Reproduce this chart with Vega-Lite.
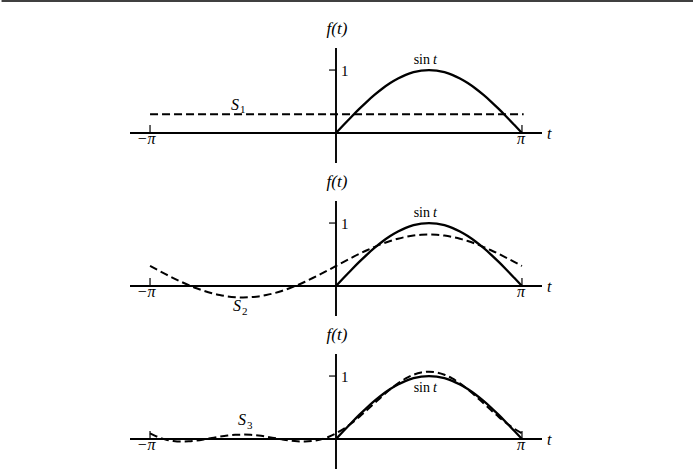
{
  "$schema": "https://vega.github.io/schema/vega-lite/v6.json",
  "padding": 0,
  "spacing": 38,
  "bounds": "flush",
  "background": "white",
  "config": {"view": {"stroke": null}, "font": "Liberation Serif", "text": {"font": "Liberation Serif", "color": "black"}},
  "datasets": {
    "top": [{"t": -5.65, "t2": 6.05, "y": 2.096}],
    "axes": [
      {"t": -3.48, "t2": 3.48, "y": 0, "y2": 0},
      {"t": 0, "t2": 0, "y": -0.476, "y2": 1.35}
    ],
    "ticks": [
      {"t": -3.1416, "t2": -3.1416, "y": 0, "y2": 0.127},
      {"t": 3.1416, "t2": 3.1416, "y": 0, "y2": 0.127},
      {"t": -0.118, "t2": 0, "y": 1, "y2": 1}
    ],
    "sin": [
      {"t": 0, "y": 0}, {"t": 0.1309, "y": 0.1305}, {"t": 0.2618, "y": 0.2588}, {"t": 0.3927, "y": 0.3827},
      {"t": 0.5236, "y": 0.5}, {"t": 0.6545, "y": 0.6088}, {"t": 0.7854, "y": 0.7071}, {"t": 0.9163, "y": 0.7934},
      {"t": 1.0472, "y": 0.866}, {"t": 1.1781, "y": 0.9239}, {"t": 1.309, "y": 0.9659}, {"t": 1.4399, "y": 0.9914},
      {"t": 1.5708, "y": 1}, {"t": 1.7017, "y": 0.9914}, {"t": 1.8326, "y": 0.9659}, {"t": 1.9635, "y": 0.9239},
      {"t": 2.0944, "y": 0.866}, {"t": 2.2253, "y": 0.7934}, {"t": 2.3562, "y": 0.7071}, {"t": 2.4871, "y": 0.6088},
      {"t": 2.618, "y": 0.5}, {"t": 2.7489, "y": 0.3827}, {"t": 2.8798, "y": 0.2588}, {"t": 3.0107, "y": 0.1305},
      {"t": 3.1416, "y": 0}
    ],
    "s1": [{"t": -3.1416, "y": 0.3}, {"t": 3.17, "y": 0.3}],
    "s2": [
      {"t": -3.1416, "y": 0.3183}, {"t": -3.0107, "y": 0.2531}, {"t": -2.8798, "y": 0.1889}, {"t": -2.7489, "y": 0.127},
      {"t": -2.618, "y": 0.0683}, {"t": -2.4871, "y": 0.0139}, {"t": -2.3562, "y": -0.0352}, {"t": -2.2253, "y": -0.0784},
      {"t": -2.0944, "y": -0.1147}, {"t": -1.9635, "y": -0.1436}, {"t": -1.8326, "y": -0.1647}, {"t": -1.7017, "y": -0.1774},
      {"t": -1.5708, "y": -0.1817}, {"t": -1.4399, "y": -0.1774}, {"t": -1.309, "y": -0.1647}, {"t": -1.1781, "y": -0.1436},
      {"t": -1.0472, "y": -0.1147}, {"t": -0.9163, "y": -0.0784}, {"t": -0.7854, "y": -0.0352}, {"t": -0.6545, "y": 0.0139},
      {"t": -0.5236, "y": 0.0683}, {"t": -0.3927, "y": 0.127}, {"t": -0.2618, "y": 0.1889}, {"t": -0.1309, "y": 0.2531},
      {"t": 0, "y": 0.3183}, {"t": 0.1309, "y": 0.3836}, {"t": 0.2618, "y": 0.4477}, {"t": 0.3927, "y": 0.5097},
      {"t": 0.5236, "y": 0.5683}, {"t": 0.6545, "y": 0.6227}, {"t": 0.7854, "y": 0.6719}, {"t": 0.9163, "y": 0.715},
      {"t": 1.0472, "y": 0.7513}, {"t": 1.1781, "y": 0.7803}, {"t": 1.309, "y": 0.8013}, {"t": 1.4399, "y": 0.814},
      {"t": 1.5708, "y": 0.8183}, {"t": 1.7017, "y": 0.814}, {"t": 1.8326, "y": 0.8013}, {"t": 1.9635, "y": 0.7803},
      {"t": 2.0944, "y": 0.7513}, {"t": 2.2253, "y": 0.715}, {"t": 2.3562, "y": 0.6719}, {"t": 2.4871, "y": 0.6227},
      {"t": 2.618, "y": 0.5683}, {"t": 2.7489, "y": 0.5097}, {"t": 2.8798, "y": 0.4477}, {"t": 3.0107, "y": 0.3836},
      {"t": 3.1416, "y": 0.3183}
    ],
    "s3": [
      {"t": -3.1416, "y": 0.09}, {"t": -3.0107, "y": 0.0329}, {"t": -2.8798, "y": -0.0072}, {"t": -2.7489, "y": -0.031},
      {"t": -2.618, "y": -0.04}, {"t": -2.4871, "y": -0.0365}, {"t": -2.3562, "y": -0.0236}, {"t": -2.2253, "y": -0.0046},
      {"t": -2.0944, "y": 0.017}, {"t": -1.9635, "y": 0.0378}, {"t": -1.8326, "y": 0.0548}, {"t": -1.7017, "y": 0.0661},
      {"t": -1.5708, "y": 0.07}, {"t": -1.4399, "y": 0.0661}, {"t": -1.309, "y": 0.0548}, {"t": -1.1781, "y": 0.0378},
      {"t": -1.0472, "y": 0.017}, {"t": -0.9163, "y": -0.0046}, {"t": -0.7854, "y": -0.0236}, {"t": -0.6545, "y": -0.0365},
      {"t": -0.5236, "y": -0.04}, {"t": -0.3927, "y": -0.031}, {"t": -0.2618, "y": -0.0072}, {"t": -0.1309, "y": 0.0329},
      {"t": 0, "y": 0.09}, {"t": 0.1309, "y": 0.1635}, {"t": 0.2618, "y": 0.2516}, {"t": 0.3927, "y": 0.3516},
      {"t": 0.5236, "y": 0.46}, {"t": 0.6545, "y": 0.5723}, {"t": 0.7854, "y": 0.6836}, {"t": 0.9163, "y": 0.7888},
      {"t": 1.0472, "y": 0.883}, {"t": 1.1781, "y": 0.9616}, {"t": 1.309, "y": 1.0208}, {"t": 1.4399, "y": 1.0575},
      {"t": 1.5708, "y": 1.07}, {"t": 1.7017, "y": 1.0575}, {"t": 1.8326, "y": 1.0208}, {"t": 1.9635, "y": 0.9616},
      {"t": 2.0944, "y": 0.883}, {"t": 2.2253, "y": 0.7888}, {"t": 2.3562, "y": 0.6836}, {"t": 2.4871, "y": 0.5723},
      {"t": 2.618, "y": 0.46}, {"t": 2.7489, "y": 0.3516}, {"t": 2.8798, "y": 0.2516}, {"t": 3.0107, "y": 0.1635},
      {"t": 3.1416, "y": 0.09}
    ],
    "common": [
      {"t": 0, "y": 1.35, "label": "f(t)", "kind": "f"},
      {"t": 0, "y": 1, "label": "1", "kind": "one"},
      {"t": -3.1416, "y": 0, "label": "−π", "kind": "negpi"},
      {"t": 3.1416, "y": 0, "label": "π", "kind": "pi"},
      {"t": 3.48, "y": 0, "label": "t", "kind": "tax"}
    ]
  },
  "vconcat": [
    {
      "width": 412, "height": 115,
      "encoding": {
        "x": {"field": "t", "type": "quantitative", "scale": {"domain": [-3.48, 3.48], "nice": false, "zero": false}, "axis": null},
        "y": {"field": "y", "type": "quantitative", "scale": {"domain": [-0.476, 1.35], "nice": false, "zero": false}, "axis": null}
      },
      "layer": [
        {"data": {"name": "top"}, "mark": {"type": "rule", "color": "black", "strokeWidth": 1.5}, "encoding": {"x2": {"field": "t2"}}},
        {"data": {"name": "axes"}, "mark": {"type": "rule", "color": "black", "strokeWidth": 1.9}, "encoding": {"x2": {"field": "t2"}, "y2": {"field": "y2"}}},
        {"data": {"name": "ticks"}, "mark": {"type": "rule", "color": "black", "strokeWidth": 1.2}, "encoding": {"x2": {"field": "t2"}, "y2": {"field": "y2"}}},
        {"data": {"name": "s1"}, "mark": {"type": "line", "color": "black", "strokeWidth": 2, "strokeDash": [8, 4]}, "encoding": {}},
        {"data": {"name": "sin"}, "mark": {"type": "line", "color": "black", "strokeWidth": 2.3, "interpolate": "monotone"}, "encoding": {}},
        {"data": {"name": "common"}, "transform": [{"filter": "datum.kind == 'f'"}], "mark": {"type": "text", "font": "Liberation Serif", "fontSize": 17, "fontStyle": "italic", "align": "center", "baseline": "alphabetic", "dx": 1, "dy": -14}, "encoding": {"text": {"field": "label"}}},
        {"data": {"name": "common"}, "transform": [{"filter": "datum.kind == 'one'"}], "mark": {"type": "text", "font": "Liberation Serif", "fontSize": 15, "align": "left", "baseline": "middle", "dx": 5, "dy": 1}, "encoding": {"text": {"field": "label"}}},
        {"data": {"name": "common"}, "transform": [{"filter": "datum.kind == 'negpi'"}], "mark": {"type": "text", "font": "Liberation Serif", "fontSize": 16, "fontStyle": "italic", "align": "center", "baseline": "alphabetic", "dx": -4, "dy": 11}, "encoding": {"text": {"field": "label"}}},
        {"data": {"name": "common"}, "transform": [{"filter": "datum.kind == 'pi'"}], "mark": {"type": "text", "font": "Liberation Serif", "fontSize": 16, "fontStyle": "italic", "align": "center", "baseline": "alphabetic", "dx": -1, "dy": 11}, "encoding": {"text": {"field": "label"}}},
        {"data": {"name": "common"}, "transform": [{"filter": "datum.kind == 'tax'"}], "mark": {"type": "text", "font": "Liberation Serif", "fontSize": 16, "fontStyle": "italic", "align": "left", "baseline": "alphabetic", "dx": 5, "dy": 6}, "encoding": {"text": {"field": "label"}}},
        {"data": {"values": [{"t": 1.5708, "y": 1, "label": "sin"}]}, "mark": {"type": "text", "font": "Liberation Serif", "fontSize": 14, "align": "right", "baseline": "alphabetic", "dx": 1, "dy": -6}, "encoding": {"text": {"field": "label"}}},
        {"data": {"values": [{"t": 1.5708, "y": 1, "label": "t"}]}, "mark": {"type": "text", "font": "Liberation Serif", "fontSize": 14, "fontStyle": "italic", "align": "left", "baseline": "alphabetic", "dx": 4, "dy": -6}, "encoding": {"text": {"field": "label"}}},
        {"data": {"values": [{"t": -1.774, "y": 0.365, "label": "S"}]}, "mark": {"type": "text", "font": "Liberation Serif", "fontSize": 16, "fontStyle": "italic", "align": "left", "baseline": "alphabetic"}, "encoding": {"text": {"field": "label"}}},
        {"data": {"values": [{"t": -1.774, "y": 0.365, "label": "1"}]}, "mark": {"type": "text", "font": "Liberation Serif", "fontSize": 11, "align": "left", "baseline": "alphabetic", "dx": 9, "dy": 3}, "encoding": {"text": {"field": "label"}}}
      ]
    },
    {
      "width": 412, "height": 115,
      "encoding": {
        "x": {"field": "t", "type": "quantitative", "scale": {"domain": [-3.48, 3.48], "nice": false, "zero": false}, "axis": null},
        "y": {"field": "y", "type": "quantitative", "scale": {"domain": [-0.476, 1.35], "nice": false, "zero": false}, "axis": null}
      },
      "layer": [
        {"data": {"name": "axes"}, "mark": {"type": "rule", "color": "black", "strokeWidth": 1.9}, "encoding": {"x2": {"field": "t2"}, "y2": {"field": "y2"}}},
        {"data": {"name": "ticks"}, "mark": {"type": "rule", "color": "black", "strokeWidth": 1.2}, "encoding": {"x2": {"field": "t2"}, "y2": {"field": "y2"}}},
        {"data": {"name": "s2"}, "mark": {"type": "line", "color": "black", "strokeWidth": 2, "strokeDash": [8, 4], "interpolate": "monotone"}, "encoding": {}},
        {"data": {"name": "sin"}, "mark": {"type": "line", "color": "black", "strokeWidth": 2.3, "interpolate": "monotone"}, "encoding": {}},
        {"data": {"name": "common"}, "transform": [{"filter": "datum.kind == 'f'"}], "mark": {"type": "text", "font": "Liberation Serif", "fontSize": 17, "fontStyle": "italic", "align": "center", "baseline": "alphabetic", "dx": 1, "dy": -14}, "encoding": {"text": {"field": "label"}}},
        {"data": {"name": "common"}, "transform": [{"filter": "datum.kind == 'one'"}], "mark": {"type": "text", "font": "Liberation Serif", "fontSize": 15, "align": "left", "baseline": "middle", "dx": 5, "dy": 1}, "encoding": {"text": {"field": "label"}}},
        {"data": {"name": "common"}, "transform": [{"filter": "datum.kind == 'negpi'"}], "mark": {"type": "text", "font": "Liberation Serif", "fontSize": 16, "fontStyle": "italic", "align": "center", "baseline": "alphabetic", "dx": -4, "dy": 11}, "encoding": {"text": {"field": "label"}}},
        {"data": {"name": "common"}, "transform": [{"filter": "datum.kind == 'pi'"}], "mark": {"type": "text", "font": "Liberation Serif", "fontSize": 16, "fontStyle": "italic", "align": "center", "baseline": "alphabetic", "dx": -1, "dy": 11}, "encoding": {"text": {"field": "label"}}},
        {"data": {"name": "common"}, "transform": [{"filter": "datum.kind == 'tax'"}], "mark": {"type": "text", "font": "Liberation Serif", "fontSize": 16, "fontStyle": "italic", "align": "left", "baseline": "alphabetic", "dx": 5, "dy": 6}, "encoding": {"text": {"field": "label"}}},
        {"data": {"values": [{"t": 1.5708, "y": 1, "label": "sin"}]}, "mark": {"type": "text", "font": "Liberation Serif", "fontSize": 14, "align": "right", "baseline": "alphabetic", "dx": 1, "dy": -6}, "encoding": {"text": {"field": "label"}}},
        {"data": {"values": [{"t": 1.5708, "y": 1, "label": "t"}]}, "mark": {"type": "text", "font": "Liberation Serif", "fontSize": 14, "fontStyle": "italic", "align": "left", "baseline": "alphabetic", "dx": 4, "dy": -6}, "encoding": {"text": {"field": "label"}}},
        {"data": {"values": [{"t": -1.74, "y": -0.397, "label": "S"}]}, "mark": {"type": "text", "font": "Liberation Serif", "fontSize": 16, "fontStyle": "italic", "align": "left", "baseline": "alphabetic"}, "encoding": {"text": {"field": "label"}}},
        {"data": {"values": [{"t": -1.74, "y": -0.397, "label": "2"}]}, "mark": {"type": "text", "font": "Liberation Serif", "fontSize": 11, "align": "left", "baseline": "alphabetic", "dx": 9, "dy": 4}, "encoding": {"text": {"field": "label"}}}
      ]
    },
    {
      "width": 412, "height": 115,
      "encoding": {
        "x": {"field": "t", "type": "quantitative", "scale": {"domain": [-3.48, 3.48], "nice": false, "zero": false}, "axis": null},
        "y": {"field": "y", "type": "quantitative", "scale": {"domain": [-0.476, 1.35], "nice": false, "zero": false}, "axis": null}
      },
      "layer": [
        {"data": {"name": "axes"}, "mark": {"type": "rule", "color": "black", "strokeWidth": 1.9}, "encoding": {"x2": {"field": "t2"}, "y2": {"field": "y2"}}},
        {"data": {"name": "ticks"}, "mark": {"type": "rule", "color": "black", "strokeWidth": 1.2}, "encoding": {"x2": {"field": "t2"}, "y2": {"field": "y2"}}},
        {"data": {"name": "s3"}, "mark": {"type": "line", "color": "black", "strokeWidth": 2, "strokeDash": [8, 4], "interpolate": "monotone"}, "encoding": {}},
        {"data": {"name": "sin"}, "mark": {"type": "line", "color": "black", "strokeWidth": 2.3, "interpolate": "monotone"}, "encoding": {}},
        {"data": {"name": "common"}, "transform": [{"filter": "datum.kind == 'f'"}], "mark": {"type": "text", "font": "Liberation Serif", "fontSize": 17, "fontStyle": "italic", "align": "center", "baseline": "alphabetic", "dx": 1, "dy": -14}, "encoding": {"text": {"field": "label"}}},
        {"data": {"name": "common"}, "transform": [{"filter": "datum.kind == 'one'"}], "mark": {"type": "text", "font": "Liberation Serif", "fontSize": 15, "align": "left", "baseline": "middle", "dx": 5, "dy": 1}, "encoding": {"text": {"field": "label"}}},
        {"data": {"name": "common"}, "transform": [{"filter": "datum.kind == 'negpi'"}], "mark": {"type": "text", "font": "Liberation Serif", "fontSize": 16, "fontStyle": "italic", "align": "center", "baseline": "alphabetic", "dx": -4, "dy": 11}, "encoding": {"text": {"field": "label"}}},
        {"data": {"name": "common"}, "transform": [{"filter": "datum.kind == 'pi'"}], "mark": {"type": "text", "font": "Liberation Serif", "fontSize": 16, "fontStyle": "italic", "align": "center", "baseline": "alphabetic", "dx": -1, "dy": 11}, "encoding": {"text": {"field": "label"}}},
        {"data": {"name": "common"}, "transform": [{"filter": "datum.kind == 'tax'"}], "mark": {"type": "text", "font": "Liberation Serif", "fontSize": 16, "fontStyle": "italic", "align": "left", "baseline": "alphabetic", "dx": 5, "dy": 6}, "encoding": {"text": {"field": "label"}}},
        {"data": {"values": [{"t": 1.5708, "y": 1, "label": "sin"}]}, "mark": {"type": "text", "font": "Liberation Serif", "fontSize": 14, "align": "right", "baseline": "alphabetic", "dx": 1, "dy": 16}, "encoding": {"text": {"field": "label"}}},
        {"data": {"values": [{"t": 1.5708, "y": 1, "label": "t"}]}, "mark": {"type": "text", "font": "Liberation Serif", "fontSize": 14, "fontStyle": "italic", "align": "left", "baseline": "alphabetic", "dx": 4, "dy": 16}, "encoding": {"text": {"field": "label"}}},
        {"data": {"values": [{"t": -1.656, "y": 0.222, "label": "S"}]}, "mark": {"type": "text", "font": "Liberation Serif", "fontSize": 16, "fontStyle": "italic", "align": "left", "baseline": "alphabetic"}, "encoding": {"text": {"field": "label"}}},
        {"data": {"values": [{"t": -1.656, "y": 0.222, "label": "3"}]}, "mark": {"type": "text", "font": "Liberation Serif", "fontSize": 11, "align": "left", "baseline": "alphabetic", "dx": 9, "dy": 4}, "encoding": {"text": {"field": "label"}}}
      ]
    }
  ]
}
